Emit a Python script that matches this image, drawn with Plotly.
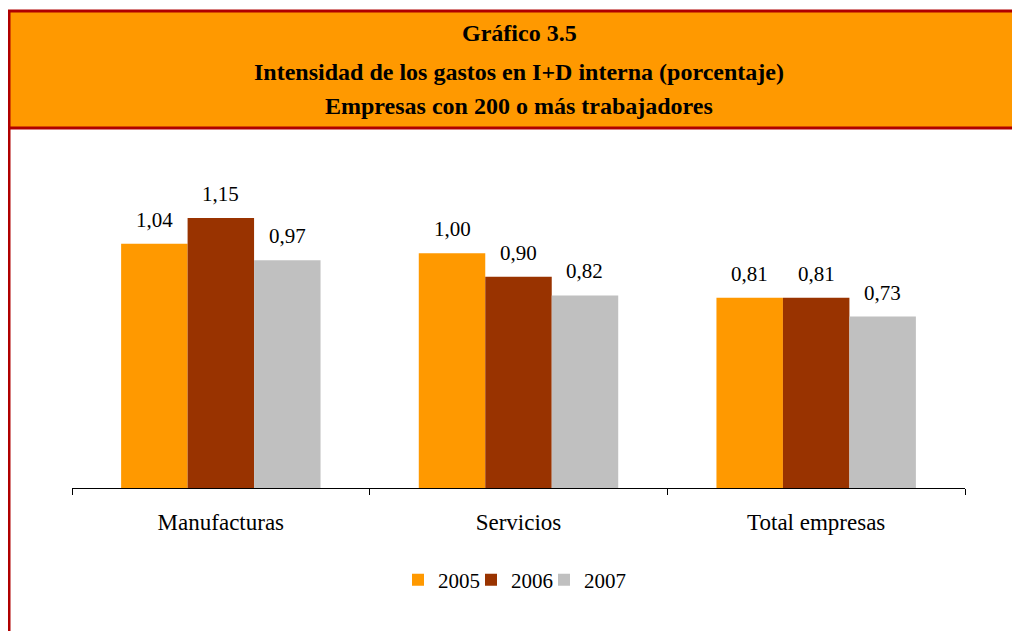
import plotly.graph_objects as go

W, H = 1020, 631
OFF = 8  # page body margin around the plot div

categories = ["Manufacturas", "Servicios", "Total empresas"]
years = ["2005", "2006", "2007"]
values_2005 = [1.04, 1.00, 0.81]
values_2006 = [1.15, 0.90, 0.81]
values_2007 = [0.97, 0.82, 0.73]
colors = ["#FF9900", "#993300", "#C0C0C0"]

title_lines = [
    "Gráfico 3.5",
    "Intensidad de los gastos en I+D interna (porcentaje)",
    "Empresas con 200 o más trabajadores",
]

FONT = "Liberation Serif, Times New Roman, serif"
BORDER = "#B00000"


def px_x(x):
    return (x - OFF) / W


def px_y(y):
    return 1 - (y - OFF) / H


fig = go.Figure()
series = [values_2005, values_2006, values_2007]
bar_px = (965 - 72) / 3 * 0.67 / 3
for i, (year, vals, col) in enumerate(zip(years, series, colors)):
    fig.add_bar(
        x=categories, y=vals, name=year,
        marker_color=col, marker_line_width=0,
    )
    for cat, v in zip(categories, vals):
        fig.add_annotation(
            x=cat, y=v, text=f"{v:.2f}".replace(".", ","),
            showarrow=False, xshift=(i - 1) * bar_px, yshift=10,
            yanchor="bottom", font=dict(family=FONT, size=21, color="black"),
        )

# invisible spacer entry so the last legend label is not clipped
fig.add_scatter(
    x=[None], y=[None], mode="markers", name=" ",
    marker=dict(color="rgba(0,0,0,0)"), hoverinfo="skip",
)

# orange header with dark red border, plus left rule down the page
fig.add_shape(
    type="rect", xref="paper", yref="paper",
    x0=px_x(9), x1=px_x(1040), y0=px_y(128), y1=px_y(11),
    fillcolor="#FF9900", line=dict(color=BORDER, width=3), layer="below",
)
fig.add_shape(
    type="line", xref="paper", yref="paper",
    x0=px_x(9), x1=px_x(9), y0=px_y(128), y1=-0.05,
    line=dict(color=BORDER, width=3),
)
for line, ypx in zip(title_lines, [33, 72, 106]):
    fig.add_annotation(
        text=f"<b>{line}</b>", xref="paper", yref="paper",
        x=px_x(519), y=px_y(ypx), showarrow=False,
        font=dict(family=FONT, size=24, color="black"),
        xanchor="center", yanchor="middle",
    )

fig.update_layout(
    width=W, height=H,
    margin=dict(l=0, r=0, t=0, b=0),
    paper_bgcolor="white", plot_bgcolor="white",
    barmode="group", bargap=0.33, bargroupgap=0,
    font=dict(family=FONT, size=20, color="black"),
    showlegend=True,
    legend=dict(
        orientation="h", x=px_x(398), xanchor="left", y=px_y(580), yanchor="middle",
        font=dict(family=FONT, size=21), entrywidth=28, entrywidthmode="pixels",
        traceorder="normal", bgcolor="rgba(0,0,0,0)",
    ),
    xaxis=dict(
        domain=[px_x(72), px_x(965)],
        range=[-0.5, 2.5],
        showline=True, linecolor="black", linewidth=1,
        ticks="outside", ticklen=6, tickcolor="black", tickson="boundaries",
        tickfont=dict(family=FONT, size=23), ticklabelstandoff=13,
        showgrid=False, zeroline=False, fixedrange=True,
    ),
    yaxis=dict(
        domain=[px_y(488), px_y(160)],
        range=[0, 1.397],
        visible=False, showgrid=False, zeroline=False,
    ),
)

fig.write_html("out.html")
